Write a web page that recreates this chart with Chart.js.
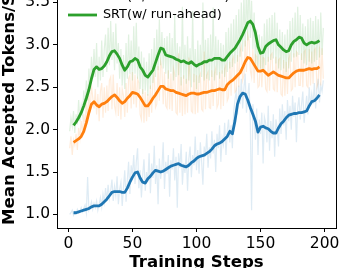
<!DOCTYPE html>
<html>
<head>
<meta charset="utf-8">
<script src="https://cdn.jsdelivr.net/npm/chart.js@4.4.1/dist/chart.umd.min.js"></script>
<style>
  html, body { margin: 0; padding: 0; background: #fff; overflow: hidden; }
  #wrap { position: relative; width: 343px; height: 268px; overflow: hidden; }
  #chart { position: absolute; left: 0; top: -60px; }
</style>
</head>
<body>
<div id="wrap"><canvas id="chart" width="343" height="345"></canvas></div>
<script>
// ticks and labels
const xTicks = [0, 50, 100, 150, 200];
const yTicks = [1.0, 1.5, 2.0, 2.5, 3.0, 3.5, 4.0];
const seriesLabels = ["Baseline", "SRT(w/o run-ahead)", "SRT(w/ run-ahead)"];
const seriesColors = ["#1f77b4", "#ff7f0e", "#2ca02c"];
const fontFamily = "DejaVu Sans";

// smoothed curves, steps 4, 6, ..., 196
const blueSmooth = [
  1.02, 1.02, 1.03, 1.04, 1.05, 1.06, 1.07, 1.09, 1.10, 1.10,
  1.10, 1.12, 1.15, 1.18, 1.22, 1.26, 1.27, 1.27, 1.27, 1.26,
  1.26, 1.31, 1.38, 1.44, 1.49, 1.50, 1.43, 1.38, 1.37, 1.42,
  1.45, 1.49, 1.52, 1.51, 1.50, 1.51, 1.53, 1.55, 1.57, 1.58,
  1.59, 1.60, 1.58, 1.57, 1.56, 1.58, 1.61, 1.63, 1.66, 1.68,
  1.69, 1.70, 1.72, 1.74, 1.77, 1.81, 1.83, 1.84, 1.86, 1.89,
  1.92, 1.98, 1.95, 2.10, 2.30, 2.39, 2.43, 2.42, 2.35, 2.26,
  2.18, 2.10, 1.97, 2.03, 2.04, 2.02, 2.01, 1.98, 1.96, 1.96,
  2.02, 2.07, 2.10, 2.14, 2.17, 2.18, 2.19, 2.19, 2.20, 2.20,
  2.21, 2.22, 2.28, 2.33, 2.34, 2.37, 2.41
];
const orangeSmooth = [
  1.85, 1.87, 1.89, 1.92, 1.98, 2.08, 2.20, 2.30, 2.33, 2.29,
  2.27, 2.30, 2.31, 2.33, 2.36, 2.39, 2.41, 2.38, 2.34, 2.31,
  2.33, 2.37, 2.40, 2.44, 2.43, 2.42, 2.38, 2.33, 2.28, 2.28,
  2.32, 2.37, 2.41, 2.46, 2.51, 2.51, 2.48, 2.47, 2.46, 2.46,
  2.44, 2.43, 2.42, 2.41, 2.40, 2.42, 2.43, 2.43, 2.42, 2.42,
  2.43, 2.44, 2.44, 2.45, 2.46, 2.46, 2.47, 2.48, 2.47, 2.47,
  2.53, 2.56, 2.58, 2.61, 2.64, 2.67, 2.73, 2.80, 2.85, 2.84,
  2.79, 2.74, 2.69, 2.69, 2.70, 2.67, 2.64, 2.66, 2.68, 2.66,
  2.64, 2.63, 2.62, 2.61, 2.61, 2.64, 2.67, 2.69, 2.70, 2.70,
  2.70, 2.71, 2.72, 2.71, 2.72, 2.72, 2.74
];
const greenSmooth = [
  2.05, 2.09, 2.14, 2.20, 2.28, 2.37, 2.47, 2.60, 2.71, 2.74,
  2.71, 2.72, 2.75, 2.80, 2.87, 2.92, 2.93, 2.89, 2.84, 2.76,
  2.70, 2.74, 2.80, 2.81, 2.84, 2.82, 2.74, 2.70, 2.64, 2.62,
  2.66, 2.70, 2.79, 2.88, 2.96, 2.95, 2.88, 2.87, 2.86, 2.85,
  2.83, 2.82, 2.80, 2.81, 2.79, 2.78, 2.80, 2.77, 2.75, 2.77,
  2.78, 2.80, 2.80, 2.82, 2.82, 2.84, 2.84, 2.84, 2.82, 2.82,
  2.86, 2.90, 2.93, 2.96, 3.01, 3.06, 3.12, 3.19, 3.26, 3.28,
  3.24, 3.14, 2.98, 2.90, 2.91, 2.98, 3.01, 3.03, 3.05, 3.06,
  3.00, 2.97, 2.94, 2.92, 2.93, 3.00, 3.04, 3.06, 3.09, 3.08,
  3.02, 3.00, 3.02, 3.03, 3.02, 3.03, 3.05
];

// raw per-step values, steps 1..199
const blueRaw = [
  1.00, 1.02, 1.05, 0.99, 1.03, 1.01, 1.06, 1.02, 1.04, 1.08,
  1.03, 1.07, 1.11, 1.02, 1.44, 1.05, 1.09, 1.15, 1.06, 1.13,
  1.08, 1.16, 1.05, 1.12, 1.20, 1.09, 1.24, 1.14, 1.31, 1.17,
  1.35, 1.19, 1.28, 1.41, 1.16, 1.33, 1.22, 1.45, 1.12, 1.30,
  1.38, 1.10, 1.32, 1.52, 1.15, 1.40, 1.62, 1.24, 1.58, 1.47,
  1.70, 1.36, 1.62, 1.78, 1.31, 1.52, 1.20, 1.46, 1.65, 1.28,
  1.50, 1.38, 1.72, 1.25, 1.60, 1.43, 1.81, 1.36, 1.58, 1.12,
  1.66, 1.42, 1.55, 1.85, 1.30, 1.62, 1.48, 1.70, 1.21, 1.64,
  1.53, 1.78, 1.40, 1.68, 1.08, 1.72, 1.55, 1.83, 1.35, 1.60,
  1.49, 1.74, 1.28, 1.65, 1.80, 1.44, 1.70, 1.58, 1.92, 1.52,
  1.76, 1.48, 1.85, 1.62, 1.35, 1.80, 1.68, 1.95, 1.55, 1.79,
  1.66, 1.98, 1.72, 1.88, 1.50, 1.95, 1.78, 2.05, 1.62, 1.90,
  1.82, 2.08, 1.70, 1.98, 2.12, 1.85, 2.05, 1.78, 2.20, 2.35,
  2.45, 2.18, 2.52, 2.30, 2.60, 2.25, 2.48, 2.66, 2.20, 2.40,
  2.55, 2.08, 1.05, 2.30, 2.15, 1.88, 2.25, 1.70, 2.12, 1.95,
  2.20, 1.60, 2.15, 2.08, 1.85, 2.28, 1.75, 2.10, 1.90, 2.18,
  1.68, 2.12, 2.02, 1.80, 2.25, 1.95, 2.30, 2.05, 2.22, 1.88,
  2.35, 2.10, 2.28, 2.00, 2.40, 2.15, 2.32, 1.85, 2.26, 2.38,
  2.12, 2.30, 2.45, 2.08, 2.25, 2.40, 2.18, 2.50, 2.28, 2.42,
  2.30, 2.55, 2.25, 2.48, 2.60, 2.32, 2.52, 2.45, 2.58
];
const orangeRaw = [
  1.78, 1.92, 1.70, 1.88, 1.82, 1.95, 1.76, 2.02, 1.90, 2.10,
  1.96, 2.18, 2.05, 2.32, 2.12, 2.45, 2.20, 2.52, 2.38, 2.25,
  2.48, 2.18, 2.42, 2.10, 2.45, 2.55, 2.14, 2.50, 2.20, 2.52,
  2.22, 2.58, 2.62, 2.24, 2.65, 2.28, 2.20, 2.55, 2.16, 2.50,
  2.12, 2.48, 2.40, 2.15, 2.55, 2.20, 2.60, 2.64, 2.25, 2.68,
  2.30, 2.65, 2.26, 2.60, 2.55, 2.18, 2.12, 2.48, 2.08, 2.45,
  2.10, 2.42, 2.15, 2.52, 2.20, 2.58, 2.66, 2.26, 2.30, 2.75,
  2.34, 2.80, 2.72, 2.30, 2.68, 2.28, 2.25, 2.70, 2.24, 2.66,
  2.22, 2.72, 2.65, 2.20, 2.18, 2.90, 2.20, 2.62, 2.16, 2.64,
  2.18, 2.60, 2.20, 2.85, 2.62, 2.22, 2.20, 2.66, 2.18, 2.64,
  2.20, 2.62, 2.66, 2.24, 2.22, 2.92, 2.24, 2.64, 2.68, 2.26,
  2.25, 2.70, 2.28, 2.66, 2.72, 2.26, 2.30, 2.68, 2.24, 2.70,
  2.28, 2.72, 2.76, 2.34, 2.38, 2.80, 2.40, 2.82, 2.86, 2.44,
  2.46, 2.88, 2.50, 2.92, 2.98, 2.58, 2.64, 3.05, 2.68, 3.12,
  3.05, 2.70, 2.62, 2.95, 2.55, 2.88, 2.86, 2.50, 2.52, 2.88,
  2.50, 2.85, 2.84, 2.48, 2.45, 2.86, 2.46, 2.88, 2.90, 2.48,
  2.46, 2.86, 2.44, 2.82, 2.84, 2.42, 2.40, 2.82, 2.40, 2.80,
  2.42, 2.84, 2.88, 2.46, 2.48, 2.90, 2.50, 2.92, 2.90, 2.52,
  2.52, 2.90, 2.50, 2.92, 2.94, 2.52, 2.50, 2.95, 2.52, 2.92,
  2.54, 2.94, 2.96, 2.50, 2.55, 2.98, 2.52, 2.96, 2.60
];
const greenRaw = [
  1.98, 2.14, 2.04, 2.22, 1.96, 2.18, 2.06, 2.35, 2.10, 2.28,
  2.18, 2.46, 2.26, 2.58, 2.34, 2.72, 2.48, 2.86, 2.60, 2.95,
  2.62, 3.02, 2.50, 2.86, 2.58, 3.05, 2.62, 2.95, 3.12, 2.68,
  3.20, 2.76, 3.28, 2.82, 3.15, 2.70, 3.25, 2.78, 3.02, 2.60,
  2.95, 2.52, 2.88, 2.48, 3.02, 2.60, 3.12, 2.66, 3.05, 2.58,
  3.22, 2.66, 3.26, 2.60, 2.98, 2.48, 2.92, 2.42, 2.85, 2.46,
  2.80, 2.40, 2.90, 2.48, 2.95, 2.55, 3.08, 2.62, 3.18, 2.70,
  3.30, 2.76, 3.15, 2.72, 3.08, 2.66, 3.10, 2.60, 3.14, 2.68,
  3.08, 2.58, 3.35, 2.62, 3.02, 2.64, 2.98, 2.52, 3.45, 2.60,
  3.00, 2.54, 3.10, 2.58, 2.96, 2.50, 3.40, 2.56, 2.95, 2.48,
  3.05, 2.55, 3.00, 2.62, 3.50, 2.58, 3.06, 2.60, 3.08, 2.58,
  3.12, 2.62, 3.44, 2.58, 3.10, 2.64, 3.06, 2.60, 3.02, 2.66,
  3.00, 2.62, 3.15, 2.68, 3.20, 2.72, 3.25, 2.74, 3.30, 2.78,
  3.35, 2.80, 3.42, 2.86, 3.50, 2.92, 3.58, 2.98, 3.70, 3.05,
  3.88, 3.08, 3.52, 2.95, 3.38, 2.76, 3.18, 2.70, 3.12, 2.72,
  3.10, 2.68, 3.25, 2.76, 3.30, 2.80, 3.32, 2.82, 3.35, 2.84,
  3.38, 2.78, 3.26, 2.72, 3.18, 2.70, 3.15, 2.72, 3.12, 2.68,
  3.18, 2.72, 3.28, 2.80, 3.32, 2.85, 3.38, 2.86, 3.45, 2.88,
  3.35, 2.82, 3.25, 2.78, 3.22, 2.76, 3.30, 2.80, 3.32, 2.78,
  3.28, 2.80, 3.34, 2.82, 3.30, 2.85, 3.38, 2.88, 3.20
];

const rawSteps = blueRaw.map((_, i) => i + 1);
const smoothSteps = blueSmooth.map((_, i) => 4 + 2 * i);

function toPoints(steps, values) {
  return values.map((v, i) => ({ x: steps[i], y: v }));
}

function hexAlpha(hex, a) {
  const n = parseInt(hex.slice(1), 16);
  return "rgba(" + (n >> 16) + "," + ((n >> 8) & 255) + "," + (n & 255) + "," + a + ")";
}

const smoothSets = [greenSmooth, orangeSmooth, blueSmooth];
const rawSets = [greenRaw, orangeRaw, blueRaw];
const colorOrder = [2, 1, 0];

// first dataset is drawn on top in Chart.js
const datasets = [];
smoothSets.forEach((vals, k) => {
  datasets.push({
    label: seriesLabels[colorOrder[k]],
    data: toPoints(smoothSteps, vals),
    borderColor: seriesColors[colorOrder[k]],
    borderWidth: 2.8,
    borderJoinStyle: "round",
    borderCapStyle: "butt"
  });
});
rawSets.forEach((vals, k) => {
  datasets.push({
    label: "raw",
    data: toPoints(rawSteps, vals),
    borderColor: hexAlpha(seriesColors[colorOrder[k]], 0.15),
    borderWidth: 1.2
  });
});

// right/top spines
const framePlugin = {
  id: "frame",
  afterDatasetsDraw(chart) {
    const { ctx, chartArea } = chart;
    ctx.save();
    ctx.strokeStyle = "#000";
    ctx.lineWidth = 1;
    ctx.beginPath();
    ctx.moveTo(Math.round(chartArea.left) + 0.5, Math.round(chartArea.top) + 0.5);
    ctx.lineTo(Math.round(chartArea.right) + 0.5, Math.round(chartArea.top) + 0.5);
    ctx.lineTo(Math.round(chartArea.right) + 0.5, Math.round(chartArea.bottom) + 0.5);
    ctx.stroke();
    ctx.restore();
  }
};

// legend in the upper left of the plot
const legendPlugin = {
  id: "cornerLegend",
  afterDraw(chart) {
    const { ctx, chartArea } = chart;
    ctx.save();
    ctx.font = Chart.helpers.toFont({ family: fontFamily, size: 12.8 }).string;
    ctx.textBaseline = "middle";
    ctx.textAlign = "left";
    seriesLabels.forEach((label, i) => {
      const y = chartArea.top + 19 + 18 * i;
      ctx.strokeStyle = seriesColors[i];
      ctx.lineWidth = 2.8;
      ctx.beginPath();
      ctx.moveTo(chartArea.left + 11, y);
      ctx.lineTo(chartArea.left + 40, y);
      ctx.stroke();
      ctx.fillStyle = "#000";
      ctx.fillText(label, chartArea.left + 46, y);
    });
    ctx.restore();
  }
};

const ctx = document.getElementById("chart").getContext("2d");
new Chart(ctx, {
  type: "line",
  data: { datasets: datasets },
  plugins: [framePlugin, legendPlugin],
  options: {
    responsive: false,
    animation: false,
    devicePixelRatio: 1,
    layout: { padding: { left: 0, right: 7, top: 20, bottom: 12 } },
    plugins: { legend: { display: false }, tooltip: { enabled: false } },
    elements: { point: { radius: 0 }, line: { tension: 0 } },
    scales: {
      x: {
        type: "linear",
        min: -8.9,
        max: 208.9,
        afterBuildTicks: (s) => { s.ticks = xTicks.map((v) => ({ value: v })); },
        afterFit: (s) => { s.height = 45; },
        grid: { drawOnChartArea: false, drawTicks: true, tickLength: 4, tickColor: "#000", tickWidth: 1 },
        border: { display: true, color: "#000", width: 1 },
        ticks: {
          padding: 3, color: "#000", maxRotation: 0, autoSkip: false,
          font: { family: fontFamily, size: 15.5 },
          callback: (v) => String(v)
        },
        title: {
          display: true, text: "Training Steps", color: "#000", padding: 0,
          font: { family: fontFamily, size: 16.6, weight: "bold" }
        }
      },
      y: {
        type: "linear",
        min: 0.84,
        max: 4.0,
        afterBuildTicks: (s) => { s.ticks = yTicks.map((v) => ({ value: v })); },
        afterFit: (s) => { s.width = 57; },
        grid: { drawOnChartArea: false, drawTicks: true, tickLength: 4, tickColor: "#000", tickWidth: 1 },
        border: { display: true, color: "#000", width: 1 },
        ticks: {
          padding: 3, color: "#000", autoSkip: false,
          font: { family: fontFamily, size: 15.5 },
          callback: (v) => Number(v).toFixed(1)
        },
        title: {
          display: true, text: "Mean Accepted Tokens/Step", color: "#000", padding: 0,
          font: { family: fontFamily, size: 16.6, weight: "bold" }
        }
      }
    }
  }
});
</script>
</body>
</html>
